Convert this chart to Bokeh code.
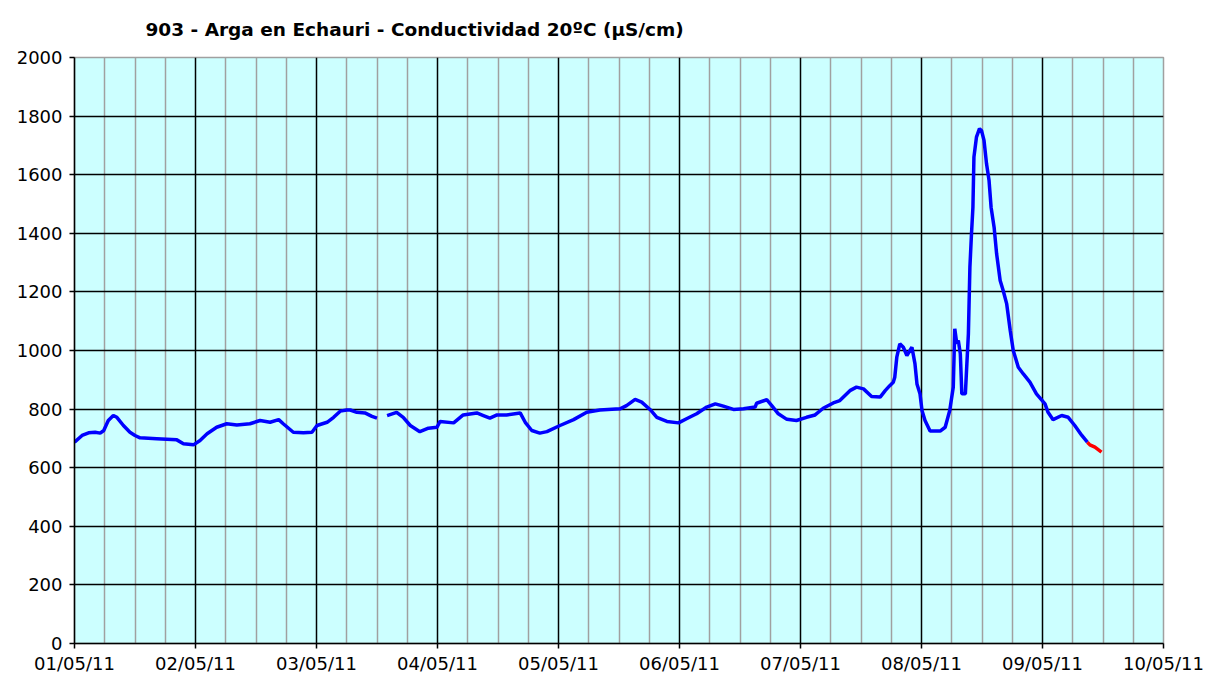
from datetime import datetime, timedelta
from bokeh.plotting import figure
from bokeh.models import FixedTicker, DatetimeTickFormatter, Range1d, ColumnDataSource
from bokeh.embed import file_html
from bokeh.resources import INLINE

NaN = float("nan")

# ---- data (hours since 01/05/11 00:00, conductivity µS/cm) ----
hours = [
    0, 1.5, 2.8, 4.1, 5.1, 5.8, 6.7, 7.7, 8.4, 9.7,
    11.0, 12.0, 13.0, 16.3, 20.3, 21.6, 23.6, 24.9, 26.3, 28.2,
    30.2, 32.2, 34.8, 36.8, 38.8, 40.5, 41.4, 43.4, 45.4, 47.1,
    48.1, 50.1, 51.4, 52.7, 54.0, 54.7, 56.0, 57.6, 59.0, 60.0,
    61.0, 62.0, 63.9, 65.2, 66.6, 68.5, 70.2, 71.9, 72.5, 75.2,
    77.1, 79.8, 81.1, 82.4, 83.8, 85.7, 88.4, 89.4, 90.7, 92.3,
    93.7, 96.3, 99.0, 101.6, 104.2, 108.2, 109.5, 111.2, 112.5, 114.2,
    115.5, 117.5, 119.8, 121.4, 123.4, 125.4, 127.1, 128.7, 130.7, 132.7,
    135.0, 135.3, 137.3, 138.3, 139.6, 141.3, 143.2, 145.2, 146.9, 148.5,
    150.5, 151.8, 153.8, 155.1, 156.5, 158.1, 159.8, 160.8, 161.7, 162.4,
    162.7, 163.1, 163.7, 164.4, 165.1, 166.1, 166.7, 167.1, 167.7, 168.1,
    168.7, 169.7, 171.7, 172.7, 173.6, 174.3, 174.6, 175.0, 175.3, 175.7,
    176.0, 176.7, 177.0, 177.3, 177.6, 177.9, 178.2, 178.4, 178.9, 179.5,
    179.9, 180.4, 180.9, 181.4, 181.8, 182.4, 182.9, 183.6, 184.2, 184.9,
    185.6, 186.2, 187.2, 188.2, 189.5, 190.8, 192.5, 193.1, 194.1, 195.8,
    197.1, 198.4, 199.8, 200.9,
]
conductivity = [
    687, 710, 719, 721, 718, 727, 761, 778, 772, 744,
    721, 710, 702, 699, 695, 682, 678, 693, 716, 738,
    750, 746, 750, 761, 755, 764, 750, 721, 719, 721,
    744, 755, 772, 793, 797, 797, 789, 787, 775, 769,
    NaN, 778, 789, 772, 744, 723, 735, 738, 758, 753,
    780, 787, 778, 769, 780, 780, 787, 755, 727, 718,
    723, 744, 764, 789, 797, 801, 812, 833, 824, 798,
    772, 758, 753, 767, 784, 807, 818, 810, 799, 801,
    807, 820, 832, 812, 784, 765, 761, 772, 780, 803,
    821, 829, 863, 875, 869, 843, 841, 863, 880, 892,
    909, 977, 1023, 1011, 983, 1011, 955, 886, 852, 795,
    761, 725, 725, 738, 795, 875, 1074, 1023, 1034, 989,
    852, 852, 955, 1057, 1284, 1393, 1489, 1660, 1728, 1757,
    1751, 1717, 1637, 1580, 1489, 1421, 1330, 1239, 1205, 1159,
    1068, 1000, 943, 920, 892, 852, 818, 789, 764, 778,
    772, 744, 710, 687,
]
# provisional (red) values at the end
hours_red = [200.9, 201.4, 202.4, 203.7]
conductivity_red = [687, 678, 670, 653]

day_labels = ["01/05/11", "02/05/11", "03/05/11", "04/05/11", "05/05/11",
              "06/05/11", "07/05/11", "08/05/11", "09/05/11", "10/05/11"]
y_ticks = [0, 200, 400, 600, 800, 1000, 1200, 1400, 1600, 1800, 2000]

title_text = "903 - Arga en Echauri - Conductividad 20ºC (µS/cm)"

# ---- helpers ----
START = datetime(2011, 5, 1)
EPOCH = datetime(1970, 1, 1)


def ms(h):
    return (START + timedelta(hours=h) - EPOCH).total_seconds() * 1000.0


n_days = len(day_labels) - 1
src = ColumnDataSource(dict(t=[ms(h) for h in hours], v=conductivity))
src_red = ColumnDataSource(dict(t=[ms(h) for h in hours_red], v=conductivity_red))

p = figure(
    frame_width=1089, frame_height=586,
    x_axis_type="datetime",
    x_range=Range1d(ms(0), ms(24 * n_days)),
    y_range=Range1d(0, 2000),
    output_backend="svg", toolbar_location=None,
    min_border_left=74, min_border_right=45, min_border_top=57, min_border_bottom=34,
    background_fill_color="#CCFFFF", border_fill_color="white",
)

p.title.text = title_text
p.title.align = "left"
p.title.vertical_align = "top"
p.title.offset = 71
p.title.standoff = 32
p.title.text_font = "DejaVu Sans"
p.title.text_font_size = "18.5px"
p.title.text_font_style = "bold"
p.title.text_color = "black"

p.outline_line_color = "#A0A0A0"
p.outline_line_width = 1.5

# x axis / grid
major = [ms(24 * i) for i in range(n_days + 1)]
minor = [ms(6 * i) for i in range(4 * n_days + 1) if i % 4 != 0]
p.xaxis.ticker = FixedTicker(ticks=major, minor_ticks=[])
fmt = "%d/%m/%y"
p.xaxis.formatter = DatetimeTickFormatter(
    milliseconds=fmt, seconds=fmt, minsec=fmt, minutes=fmt, hourmin=fmt,
    hours=fmt, days=fmt, months=fmt, years=fmt)
p.xgrid.ticker = FixedTicker(ticks=major[1:-1], minor_ticks=minor)
p.xgrid.grid_line_color = "black"
p.xgrid.grid_line_width = 1.5
p.xgrid.minor_grid_line_color = "#A0A0A0"
p.xgrid.minor_grid_line_width = 1.5

# y axis / grid
p.yaxis.ticker = FixedTicker(ticks=y_ticks, minor_ticks=[])
p.ygrid.ticker = FixedTicker(ticks=y_ticks[1:-1], minor_ticks=[])
p.ygrid.grid_line_color = "black"
p.ygrid.grid_line_width = 1.5

for ax in (p.xaxis[0], p.yaxis[0]):
    ax.axis_line_color = "black"
    ax.axis_line_width = 1.5
    ax.major_tick_line_color = "black"
    ax.major_tick_line_width = 1.5
    ax.major_tick_in = 0
    ax.major_tick_out = 5
    ax.minor_tick_line_color = None
    ax.major_label_text_font = "DejaVu Sans"
    ax.major_label_text_font_size = "18px"
    ax.major_label_text_color = "black"
p.xaxis.major_label_standoff = 4
p.yaxis.major_label_standoff = 7

p.line("t", "v", source=src, line_color="#0000FF", line_width=3.5)
p.line("t", "v", source=src_red, line_color="#FF0000", line_width=3.5)

open("out.html", "w").write(file_html(p, INLINE))
